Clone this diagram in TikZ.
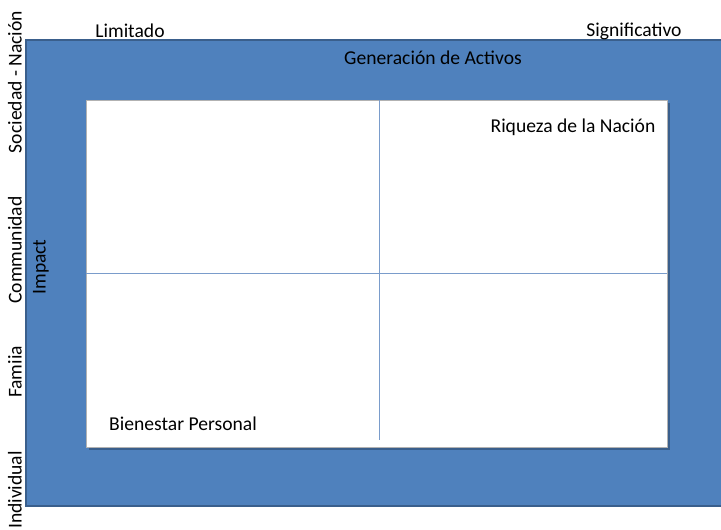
\documentclass[tikz,border=0pt]{standalone}
\usepackage{fontspec}
\setmainfont{Carlito}
\definecolor{fillblue}{HTML}{4F81BD}
\definecolor{edgeblue}{HTML}{3A5F8C}
\definecolor{gridblue}{HTML}{7A9CCB}
\tikzset{
  lbl/.style={font=\fontsize{19.6}{22}\selectfont, inner sep=0pt, text=black},
}
\begin{document}
\begin{tikzpicture}[x=1pt,y=-1pt]
\useasboundingbox (0,0) rectangle (721,530);
\fill[white] (0,0) rectangle (721,530);
% outer blue frame
\path[fill=fillblue, draw=edgeblue, line width=1.2pt] (26,40) rectangle (723,506);
% shadow of inner box
\fill[edgeblue] (89,103) rectangle (670,450);
\path[fill=white, draw=gray!60, line width=0.6pt] (86,100) rectangle (667,447);
\coordinate (vtop) at (379,100);
\coordinate (vbot) at (379,440);
\coordinate (hl) at (86,273);
\coordinate (hr) at (667,273);
\draw[gridblue, line width=0.9pt] (vtop) -- (vbot);
\draw[gridblue, line width=0.9pt] (hl) -- (hr);
% labels
\node[lbl] (lim) at (130,31) {Limitado};
\node[lbl] (sig) at (634,31) {Significativo};
\node[lbl] (gen) at (433,58) {Generación de Activos};
\node[lbl] (riq) at (573,127) {Riqueza de la Nación};
\node[lbl] (bien) at (183,424) {Bienestar Personal};
\node[lbl, rotate=90] (imp) at (41,267) {Impact};
\node[lbl, rotate=90] (soc) at (15,82) {Sociedad - Nación};
\node[lbl, rotate=90] (com) at (15,250) {Communidad};
\node[lbl, rotate=90] (fam) at (15,372) {Famiia};
\node[lbl, rotate=90] (ind) at (15,490) {Individual};
\end{tikzpicture}
\end{document}
